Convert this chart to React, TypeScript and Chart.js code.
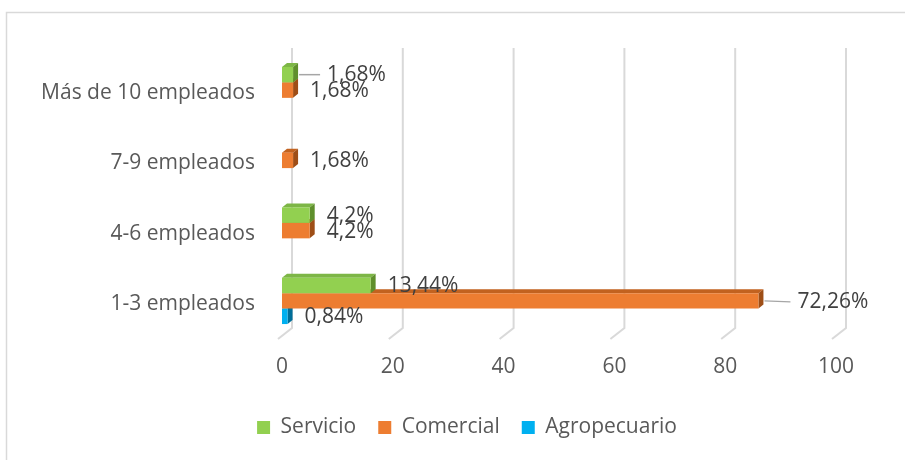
import React, { useEffect, useRef } from 'react';
import { Chart, registerables } from 'chart.js';

Chart.register(...registerables);

const categories = ['Más de 10 empleados', '7-9 empleados', '4-6 empleados', '1-3 empleados'];
const seriesNames = ['Servicio', 'Comercial', 'Agropecuario'];
const servicio = [2, null, 5, 16];
const comercial = [2, 2, 5, 86];
const agropecuario = [null, null, null, 1];
const servicioPct = [1.68, null, 4.2, 13.44];
const comercialPct = [1.68, 1.68, 4.2, 72.26];
const agropecuarioPct = [null, null, null, 0.84];
const xTicks = [0, 20, 40, 60, 80, 100];

const frontColors = ['#92D050', '#ED7D31', '#00B0F0'];
const topColors = ['#7DB646', '#C2621F', '#0093C8'];
const sideColors = ['#5F8F2C', '#9E4E17', '#006E99'];
const FONT = '"Open Sans", sans-serif';
const FS = 21;
const DX = 5;
const DY = 4;

// label placement tweaks (dataset index, category index, horizontal shift, leader line)
const leaderLabels = [
  { ds: 0, i: 0, dx: 34, dy: -1 },
  { ds: 1, i: 3, dx: 39, dy: 0 },
];

const pcts = [servicioPct, comercialPct, agropecuarioPct];

const fmt = (v: number) => String(v).replace('.', ',') + '%';

const threeD = {
  id: 'threeD',
  beforeDraw(chart: any) {
    const { ctx } = chart;
    ctx.save();
    ctx.fillStyle = '#ffffff';
    ctx.fillRect(0, 0, chart.width, chart.height);
    ctx.strokeStyle = '#d9d9d9';
    ctx.lineWidth = 1.5;
    ctx.strokeRect(6.5, 12.5, chart.width + 40, chart.height + 40);
    ctx.restore();
  },
  beforeDatasetsDraw(chart: any) {
    const { ctx } = chart;
    const x = chart.scales.x;
    const area = chart.chartArea;
    ctx.save();
    ctx.strokeStyle = '#d9d9d9';
    ctx.lineWidth = 2;
    xTicks.forEach((v) => {
      const px = x.getPixelForValue(v);
      ctx.beginPath();
      ctx.moveTo(px + 10, area.top - 7);
      ctx.lineTo(px + 10, area.bottom - 8);
      ctx.lineTo(px - 4, area.bottom + 3);
      ctx.stroke();
    });
    for (let d = chart.data.datasets.length - 1; d >= 0; d--) {
      const meta = chart.getDatasetMeta(d);
      meta.data.forEach((el: any, i: number) => {
        const v = chart.data.datasets[d].data[i];
        if (v == null || v === 0) return;
        const { x: ex, y: ey, base, height } = el.getProps(['x', 'y', 'base', 'height'], true);
        const top = ey - height / 2;
        const bot = ey + height / 2;
        ctx.fillStyle = topColors[d];
        ctx.beginPath();
        ctx.moveTo(base, top);
        ctx.lineTo(ex, top);
        ctx.lineTo(ex + DX, top - DY);
        ctx.lineTo(base + DX, top - DY);
        ctx.closePath();
        ctx.fill();
        ctx.fillStyle = sideColors[d];
        ctx.beginPath();
        ctx.moveTo(ex, top);
        ctx.lineTo(ex + DX, top - DY);
        ctx.lineTo(ex + DX, bot - DY);
        ctx.lineTo(ex, bot);
        ctx.closePath();
        ctx.fill();
      });
    }
    ctx.restore();
  },
  afterDatasetsDraw(chart: any) {
    const { ctx } = chart;
    ctx.save();
    ctx.font = `${FS}px ${FONT}`;
    ctx.fillStyle = '#404040';
    ctx.textAlign = 'left';
    ctx.textBaseline = 'middle';
    chart.data.datasets.forEach((ds: any, d: number) => {
      const meta = chart.getDatasetMeta(d);
      meta.data.forEach((el: any, i: number) => {
        const p = pcts[d][i];
        if (p == null) return;
        const { x: ex, y: ey } = el.getProps(['x', 'y'], true);
        const tweak = leaderLabels.find((t) => t.ds === d && t.i === i);
        const lx = ex + (tweak ? tweak.dx : 17);
        const ly = ey + 1 + (tweak ? tweak.dy : 0);
        if (tweak) {
          ctx.save();
          ctx.strokeStyle = '#a6a6a6';
          ctx.lineWidth = 1.5;
          ctx.beginPath();
          ctx.moveTo(ex + DX + 1, ey);
          ctx.lineTo(lx - 7, ly);
          ctx.stroke();
          ctx.restore();
        }
        ctx.fillText(fmt(p), lx, ly);
      });
    });
    ctx.restore();
  },
};

export default function App() {
  const ref = useRef<HTMLCanvasElement | null>(null);
  useEffect(() => {
    if (!ref.current) return;
    const chart = new Chart(ref.current, {
      type: 'bar',
      data: {
        labels: categories,
        datasets: [servicio, comercial, agropecuario].map((data, k) => ({
          label: seriesNames[k],
          data,
          backgroundColor: frontColors[k],
          borderWidth: 0,
          categoryPercentage: 0.66,
          barPercentage: 1,
        })),
      },
      options: {
        indexAxis: 'y',
        animation: false,
        responsive: false,
        layout: { padding: { left: 40, right: 11, top: 55, bottom: 12 } },
        scales: {
          x: {
            min: 0,
            max: 100,
            afterFit: (s: any) => { s.height = 59; },
            ticks: { stepSize: 20, color: '#595959', font: { family: FONT, size: FS }, padding: 18 },
            grid: { display: false, drawTicks: false },
            border: { display: false },
          },
          y: {
            afterFit: (s: any) => { s.width = 242; },
            ticks: { color: '#595959', font: { family: FONT, size: FS }, padding: 27, labelOffset: 3 },
            grid: { display: false, drawTicks: false },
            border: { display: false },
          },
          ySpacer: {
            type: 'category',
            position: 'right',
            afterFit: (s: any) => { s.width = 58; },
            ticks: { display: false },
            grid: { display: false, drawTicks: false },
            border: { display: false },
          },
        },
        plugins: {
          legend: {
            position: 'bottom',
            labels: {
              boxWidth: 13,
              boxHeight: 13,
              padding: 22,
              color: '#595959',
              font: { family: FONT, size: FS },
            },
          },
          tooltip: { enabled: false },
        },
      },
      plugins: [threeD],
    } as any);
    return () => chart.destroy();
  }, []);
  return (
    <div style={{ position: 'absolute', left: 0, top: 0, width: 905, height: 460 }}>
      <canvas ref={ref} width={905} height={460} />
    </div>
  );
}
